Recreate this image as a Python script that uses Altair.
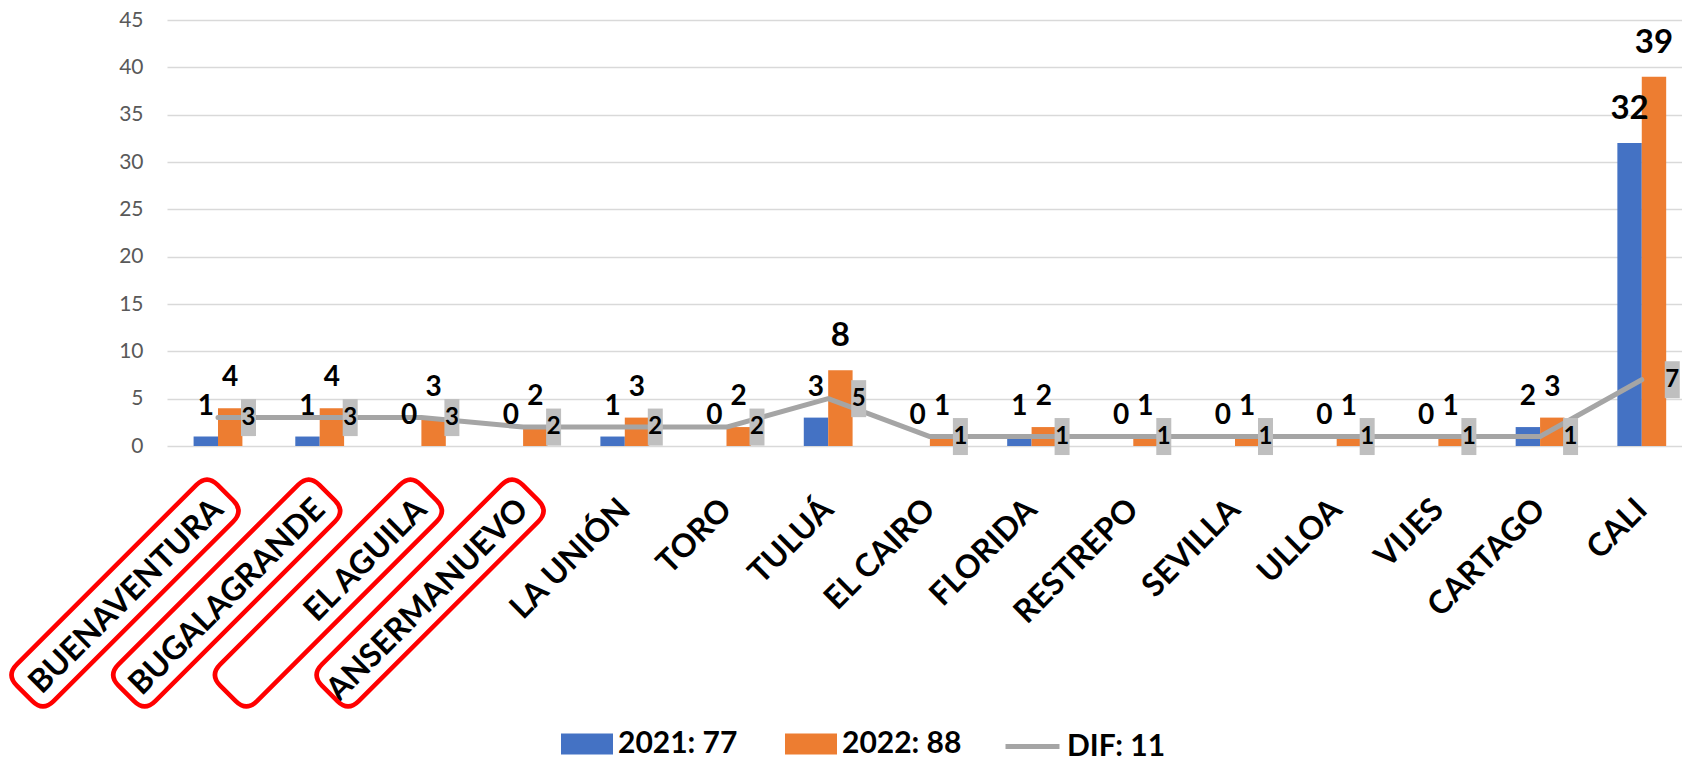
import altair as alt
import pandas as pd

# ---------------- data ----------------
categories = ["BUENAVENTURA", "BUGALAGRANDE", "EL AGUILA", "ANSERMANUEVO", "LA UNIÓN",
              "TORO", "TULUÁ", "EL CAIRO", "FLORIDA", "RESTREPO", "SEVILLA", "ULLOA",
              "VIJES", "CARTAGO", "CALI"]
values_2021 = [1, 1, 0, 0, 1, 0, 3, 0, 1, 0, 0, 0, 0, 2, 32]
values_2022 = [4, 4, 3, 2, 3, 2, 8, 1, 2, 1, 1, 1, 1, 3, 39]
values_dif = [3, 3, 3, 2, 2, 2, 5, 1, 1, 1, 1, 1, 1, 1, 7]
series_labels = ["2021: 77", "2022: 88"]
dif_label = "DIF: 11"
highlighted = ["BUENAVENTURA", "BUGALAGRANDE", "EL AGUILA", "ANSERMANUEVO"]
y_ticks = [0, 5, 10, 15, 20, 25, 30, 35, 40, 45]

# ---------------- tables ----------------
bar_df = pd.DataFrame(
    [{"cat": c, "serie": series_labels[0], "value": v} for c, v in zip(categories, values_2021)]
    + [{"cat": c, "serie": series_labels[1], "value": v} for c, v in zip(categories, values_2022)]
)
dif_df = pd.DataFrame({"cat": categories, "value": values_dif, "serie": dif_label})
hl_df = pd.DataFrame({"cat": highlighted})

FONT = "Lato"
BLUE, ORANGE, GREY = "#4472C4", "#ED7D31", "#A5A5A5"

BOX_PATH = "M-0.405,-1H0.405V1H-0.405Z"
RECT_PATH = "M-1,-0.4H1V0.4H-1Z"
RBOX_PATH = ("M-0.8944,-0.183H0.8944Q1,-0.183 1,-0.0774V0.0774Q1,0.183 0.8944,0.183"
             "H-0.8944Q-1,0.183 -1,0.0774V-0.0774Q-1,-0.183 -0.8944,-0.183Z")

xscale = alt.Scale(domain=categories, paddingInner=0.52, paddingOuter=0.2085, align=0.627)
x_enc = alt.X(
    "cat:N", sort=categories, scale=xscale,
    axis=alt.Axis(title=None, labelAngle=315, labelAlign="right", labelBaseline="middle",
                  labelPadding=58, labelFont=FONT, labelFontSize=32, labelFontWeight="bold",
                  labelColor="black", labelLimit=600, ticks=False, tickSize=0, domain=False,
                  labelOverlap=False, grid=False),
)
y_enc = alt.Y(
    "value:Q", scale=alt.Scale(domain=[0, 45], nice=False, zero=True),
    axis=alt.Axis(title=None, values=y_ticks, grid=True, gridColor="#D9D9D9", gridWidth=1.5,
                  domain=False, ticks=False, labelFont=FONT, labelFontSize=21,
                  labelColor="#595959", labelPadding=24, labelFlush=False, labelOverlap=False),
)
xoff = alt.XOffset("serie:N", sort=series_labels,
                   scale=alt.Scale(domain=series_labels, paddingInner=0, paddingOuter=0))

bars = alt.Chart(bar_df).mark_bar().encode(
    x=x_enc, xOffset=xoff, y=y_enc,
    color=alt.Color("serie:N", scale=alt.Scale(domain=series_labels, range=[BLUE, ORANGE]),
                    legend=alt.Legend(orient="none", legendX=394, legendY=698,
                                      direction="horizontal", title=None,
                                      symbolType=RECT_PATH, symbolSize=2704,
                                      symbolStrokeWidth=0, symbolOpacity=1,
                                      labelFont=FONT, labelFontSize=30,
                                      labelFontWeight="bold", labelColor="black",
                                      labelOffset=5, columnPadding=47, padding=0)),
)

line = alt.Chart(dif_df).mark_line(strokeWidth=5, strokeCap="round", strokeJoin="round").encode(
    x=x_enc, y=y_enc,
    stroke=alt.Stroke("serie:N", scale=alt.Scale(domain=[dif_label], range=[GREY]),
                      legend=alt.Legend(orient="none", legendX=836, legendY=697,
                                        direction="horizontal", title=None,
                                        symbolType="stroke", symbolSize=2916,
                                        symbolStrokeWidth=5,
                                        labelFont=FONT, labelFontSize=30,
                                        labelFontWeight="bold", labelColor="black",
                                        labelOffset=5, padding=0)),
)

dif_boxes = alt.Chart(dif_df).mark_point(
    shape=BOX_PATH, size=1369, filled=True, color="#BFBFBF", opacity=1, strokeWidth=0,
    xOffset=30.5,
).encode(x=x_enc, y=y_enc)

dif_text = alt.Chart(dif_df).mark_text(
    font=FONT, fontSize=24, fontWeight="bold", color="black", baseline="middle",
    align="center", xOffset=30.5,
).encode(x=x_enc, y=y_enc, text="value:Q")

lab_small = alt.Chart(bar_df).transform_filter("datum.value < 5").mark_text(
    font=FONT, fontSize=28, fontWeight="bold", color="black", baseline="middle",
    align="center", dy=-30,
).encode(x=x_enc, xOffset=xoff, y=y_enc, text="value:Q")

lab_big = alt.Chart(bar_df).transform_filter("datum.value >= 5").mark_text(
    font=FONT, fontSize=33, fontWeight="bold", color="black", baseline="middle",
    align="center", dy=-34,
).encode(x=x_enc, xOffset=xoff, y=y_enc, text="value:Q")

red_boxes = alt.Chart(hl_df).mark_point(
    shape=RBOX_PATH, size=80656, angle=315, filled=False, color="#FF0000",
    strokeWidth=4.5, opacity=1, xOffset=-93,
).encode(x=x_enc, y=alt.value(573))

chart = alt.layer(bars, line, dif_boxes, dif_text, lab_small, lab_big, red_boxes).properties(
    width=1515, height=426,
    padding={"left": 159, "top": 12, "right": 0, "bottom": 313},
    autosize=alt.AutoSizeParams(type="none"),
).configure_view(stroke=None)

chart.save("out.html", embed_options={"renderer": "svg", "actions": False})
